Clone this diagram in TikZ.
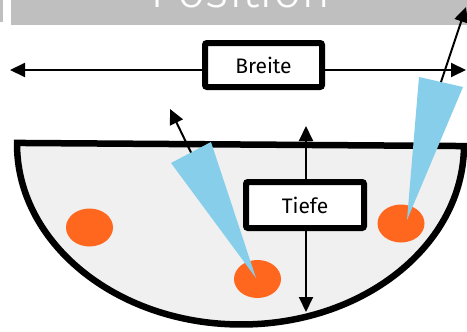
\documentclass[tikz,border=0pt]{standalone}
\usepackage{fontspec}
\setmainfont{Fira Sans}
\newfontfamily\thinfont{Fira Sans}[UprightFont={* Light}]
\usetikzlibrary{arrows.meta,calc,shapes.geometric}
\definecolor{bar}{HTML}{BFBFBF}
\definecolor{bowlfill}{HTML}{F0F0F0}
\definecolor{sky}{HTML}{87CEEB}
\definecolor{rust}{HTML}{FF671F}
\tikzset{>={Triangle[length=15pt,width=14pt]},arr/.style={<->,line width=2pt},ray/.style={->,line width=2pt},box/.style={draw,line width=6pt,rounded corners=2pt,fill=white,minimum width=117pt,minimum height=44pt,inner sep=0pt,font=\fontsize{21}{25}\selectfont},dot/.style={ellipse,fill=rust,minimum width=47pt,minimum height=38pt,inner sep=0pt},beam/.style={fill=sky}}

\begin{document}
\begin{tikzpicture}[x=1pt,y=-1pt]
\clip (0,0) rectangle (467,332);
\fill[bar] (11,0) rectangle (467,25);\fill[bar] (0,0) rectangle (2.5,22);
\node[anchor=base,inner sep=0pt,text=white,font=\thinfont\fontsize{50}{60}\selectfont] (title) at (240.5,8) {Position};
\draw[line width=6.5pt,fill=bowlfill,rotate around={-0.4:(240.5,144.5)}] (17,144.5) -- (464,144.5) arc[start angle=0,end angle=180,x radius=223.5,y radius=180] -- cycle;
\node[dot] (d1) at (89.5,227.5) {};
\node[dot] (d2) at (257.5,279) {};
\node[dot] (d3) at (401,223.5) {};
\coordinate (a1) at (171,163);\coordinate (a2) at (211,142);\coordinate (r1) at (170,109);
\fill[beam] ($(d2.center)+(-1.5,-1)$) -- (a1) -- (a2) -- cycle;
\draw[ray] ($(a1)!.5!(a2)$) -- (r1);
\coordinate (b1) at (419,77);\coordinate (b2) at (463,87);\coordinate (r2) at (466,7);
\fill[beam] ($(d3.center)+(6,-3.5)$) -- (b1) -- (b2) -- cycle;
\draw[ray] ($(b1)!.5!(b2)$) -- (r2);
\coordinate (wl) at (10,70);\coordinate (wr) at (466,70);
\draw[arr] (wl) -- (wr);
\node[box] (breite) at (263.5,65) {Breite};
\coordinate (tt) at (306,126);\coordinate (tb) at (306,312);
\draw[arr] (tt) -- (tb);
\node[box,minimum width=118pt,minimum height=46pt] (tiefe) at (305,205) {Tiefe};
\end{tikzpicture}
\end{document}
